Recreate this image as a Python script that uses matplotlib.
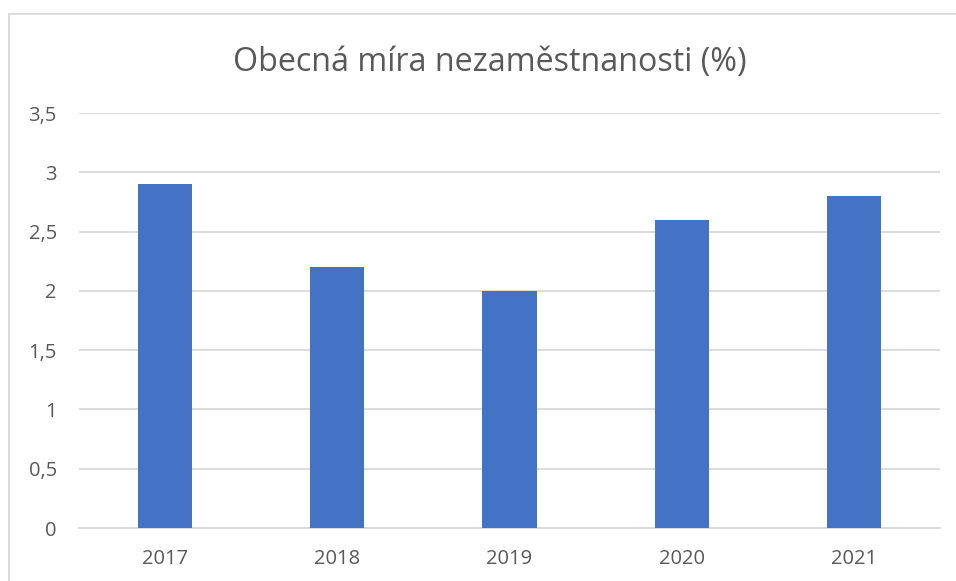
import matplotlib
matplotlib.use("Agg")
import matplotlib.pyplot as plt
from matplotlib.lines import Line2D

# data
years = ["2017", "2018", "2019", "2020", "2021"]
rates = [2.9, 2.2, 2.0, 2.6, 2.8]
yticks = [0, 0.5, 1, 1.5, 2, 2.5, 3, 3.5]
ytick_labels = ["0", "0,5", "1", "1,5", "2", "2,5", "3", "3,5"]

title = "Obecná míra nezaměstnanosti (%)"
bar_color = "#4472C4"
text_color = "#595959"
grid_color = "#D9D9D9"

plt.rcParams["font.family"] = ["Open Sans", "DejaVu Sans"]

W, H = 956, 581
fig = plt.figure(figsize=(W / 100, H / 100), dpi=100)

# plot area in pixels
left, right, top, bottom = 79, 940, 113, 528
ax = fig.add_axes([left / W, 1 - bottom / H, (right - left) / W, (bottom - top) / H])

x = list(range(len(years)))
ax.bar(x, rates, width=0.315, color=bar_color, zorder=3)

ax.set_xlim(-0.5, len(years) - 0.5)
ax.set_ylim(0, 3.5)
ax.set_yticks(yticks)
ax.set_yticklabels(ytick_labels)
ax.set_xticks(x)
ax.set_xticklabels(years)

ax.tick_params(axis="both", length=0, labelsize=14.5, colors=text_color)
ax.tick_params(axis="y", pad=16)
ax.tick_params(axis="x", pad=15)

for s in ["top", "right", "left"]:
    ax.spines[s].set_visible(False)
ax.spines["bottom"].set_color(grid_color)
ax.spines["bottom"].set_linewidth(1.3)

ax.yaxis.grid(True, color=grid_color, linewidth=1.3, zorder=0)
ax.set_axisbelow(True)

fig.text(490 / W, 1 - 62 / H, title, ha="center", va="center",
         fontsize=23.2, color=text_color)

# outer chart frame (cropped at right and bottom)
fig.add_artist(Line2D([9 / W, 9 / W], [1 - 14 / H, 0], color=grid_color,
                      linewidth=1.3, transform=fig.transFigure))
fig.add_artist(Line2D([9 / W, 1], [1 - 14 / H, 1 - 14 / H], color=grid_color,
                      linewidth=1.3, transform=fig.transFigure))

fig.savefig("out.png", dpi=100)
